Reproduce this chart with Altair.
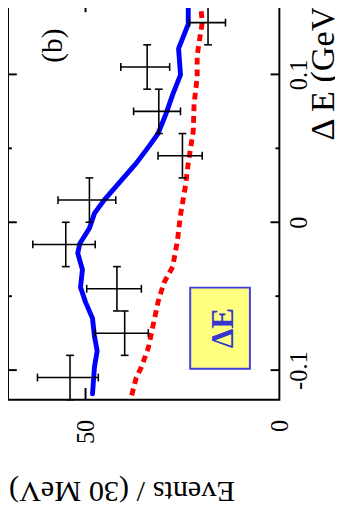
import altair as alt
import pandas as pd

# ---- data read from the (rotated) reference ----
# histogram points: Delta E bin centres (GeV), events, lower/upper error
de_centers = [-0.105, -0.075, -0.045, -0.015, 0.015, 0.045, 0.075, 0.105, 0.135]
events = [54.0, 39.9, 41.9, 55.1, 49.0, 25.0, 31.1, 34.1, 18.4]
ev_lo = [46.7, 33.8, 35.6, 47.5, 42.2, 19.9, 25.5, 28.3, 13.9]
ev_hi = [62.4, 47.5, 49.7, 63.6, 57.1, 31.3, 37.6, 40.9, 23.2]
half_bin = 0.015  # 30 MeV bins

# total fit (blue solid)
fit_de = [-0.116, -0.098, -0.087, -0.077, -0.065, -0.054, -0.044, -0.032, -0.021,
          -0.0145, -0.004, 0.006, 0.015, 0.025, 0.040, 0.0515, 0.060, 0.073, 0.0865,
          0.0997, 0.1175, 0.134, 0.150]
fit_ev = [48.2, 47.7, 47.0, 47.7, 48.2, 50.0, 51.3, 50.8, 52.0,
          51.5, 49.0, 47.7, 45.2, 41.9, 36.9, 33.6, 31.3, 29.3, 27.5,
          25.5, 26.0, 23.5, 23.5]

# background (red dotted)
bkg_de = [-0.117, -0.105, -0.098, -0.085, -0.070, -0.054, -0.041, -0.030, -0.0125,
          0.005, 0.025, 0.040, 0.062, 0.080, 0.098, 0.113, 0.135, 0.150]
bkg_ev = [38.1, 36.9, 35.6, 33.8, 32.6, 31.3, 29.8, 27.5, 26.3,
          25.5, 24.2, 23.5, 22.2, 22.0, 21.2, 21.2, 19.9, 20.4]

ev_domain = [0, 70]
de_domain = [-0.12, 0.15]
ev_ticks = [0, 50]
de_major = [-0.1, 0, 0.1]
de_minor = [-0.05, 0.05]

panel_label = "(b)"
panel_pos = (58.3, 0.1195)
box_label = "ΔE"
box_ev = (7.6, 23.0)
box_de = (-0.099, -0.0442)

FONT = "Liberation Serif"

pts = pd.DataFrame({
    "dE": de_centers, "ev": events, "lo": ev_lo, "hi": ev_hi,
    "dElo": [c - half_bin for c in de_centers],
    "dEhi": [c + half_bin for c in de_centers],
})
fit = pd.DataFrame({"dE": fit_de, "ev": fit_ev})
bkg = pd.DataFrame({"dE": bkg_de, "ev": bkg_ev})

xs = alt.Scale(domain=ev_domain, reverse=True, nice=False, zero=False)
ys = alt.Scale(domain=de_domain, nice=False, zero=False)

x_axis = alt.Axis(
    values=ev_ticks, ticks=False, tickSize=0, domain=False, grid=False,
    labelAngle=270, labelAlign="right", labelBaseline="middle", labelPadding=20,
    labelFont=FONT, labelFontSize=25, labelColor="black", labelFlush=False,
    labelOverlap=False,
    title="Events / (30 MeV)", titleFont=FONT, titleFontSize=31,
    titleFontWeight="normal", titleColor="black", titleAngle=180,
    titleAlign="left", titleBaseline="alphabetic", titleX=232, titleY=84,
)
y_axis = alt.Axis(
    orient="right", values=de_major, ticks=False, tickSize=0, domain=False,
    grid=False, labelAngle=270, labelAlign="center", labelBaseline="middle",
    labelPadding=20, labelFont=FONT, labelFontSize=25, labelColor="black",
    labelFlush=False, labelOverlap=False,
    labelExpr="datum.value < 0 ? '-' + format(abs(datum.value), '.1~f') : format(datum.value, '.1~f')",
    title="Δ E (GeV)", titleFont=FONT, titleFontSize=35, titleFontWeight="normal",
    titleColor="black", titleAngle=270, titleAlign="left",
    titleBaseline="alphabetic", titleX=55, titleY=143,
)

base_x = alt.X("ev:Q", scale=xs, axis=x_axis)
base_y = alt.Y("dE:Q", scale=ys, axis=y_axis)

# box annotation
box = alt.Chart(pd.DataFrame({"x1": [box_ev[0]], "x2": [box_ev[1]],
                              "y1": [box_de[0]], "y2": [box_de[1]]})).mark_rect(
    fill="#ffff80", stroke="#3f3fdc", strokeWidth=2
).encode(x=alt.X("x1:Q", scale=xs, axis=x_axis), x2="x2:Q",
         y=alt.Y("y1:Q", scale=ys, axis=y_axis), y2="y2:Q")

box_text = alt.Chart(pd.DataFrame({
    "ev": [(box_ev[0] + box_ev[1]) / 2], "dE": [(box_de[0] + box_de[1]) / 2],
    "t": [box_label]})).mark_text(
    font=FONT, fontSize=32, fontWeight="bold", color="#3535d0", angle=270,
    align="center", baseline="middle", dy=3
).encode(x=base_x, y=base_y, text="t:N")

panel = alt.Chart(pd.DataFrame({"ev": [panel_pos[0]], "dE": [panel_pos[1]],
                                "t": [panel_label]})).mark_text(
    font=FONT, fontSize=30, color="black", angle=270, align="center",
    baseline="middle"
).encode(x=base_x, y=base_y, text="t:N")

bkg_line = alt.Chart(bkg).mark_line(
    color="#ff0000", strokeWidth=5, strokeDash=[7, 5], strokeCap="butt"
).encode(x=base_x, y=base_y, order="dE:Q")

fit_line = alt.Chart(fit).mark_line(
    color="#0000ff", strokeWidth=5, strokeCap="round", strokeJoin="round"
).encode(x=base_x, y=base_y, order="dE:Q")

# error bars
hbar = alt.Chart(pts).mark_rule(color="black", strokeWidth=1.6).encode(
    x=alt.X("lo:Q", scale=xs, axis=x_axis), x2="hi:Q", y=base_y)
vbar = alt.Chart(pts).mark_rule(color="black", strokeWidth=1.6).encode(
    x=base_x, y=alt.Y("dElo:Q", scale=ys, axis=y_axis), y2="dEhi:Q")
cap_lo = alt.Chart(pts).mark_tick(orient="vertical", size=8, thickness=1.6,
                                  color="black", opacity=1).encode(
    x=alt.X("lo:Q", scale=xs, axis=x_axis), y=base_y)
cap_hi = alt.Chart(pts).mark_tick(orient="vertical", size=8, thickness=1.6,
                                  color="black", opacity=1).encode(
    x=alt.X("hi:Q", scale=xs, axis=x_axis), y=base_y)
cap_dlo = alt.Chart(pts).mark_tick(orient="horizontal", size=8, thickness=1.6,
                                   color="black", opacity=1).encode(
    x=base_x, y=alt.Y("dElo:Q", scale=ys, axis=y_axis))
cap_dhi = alt.Chart(pts).mark_tick(orient="horizontal", size=8, thickness=1.6,
                                   color="black", opacity=1).encode(
    x=base_x, y=alt.Y("dEhi:Q", scale=ys, axis=y_axis))

# inward frame ticks
def side_ticks(vals, edge, length, off):
    df = pd.DataFrame({"dE": vals, "ev": [edge] * len(vals)})
    return alt.Chart(df).mark_tick(orient="horizontal", size=length, thickness=2,
                                   color="black", opacity=1, xOffset=off).encode(
        x=base_x, y=base_y)

def tb_ticks(vals, edge, length, off):
    df = pd.DataFrame({"ev": vals, "dE": [edge] * len(vals)})
    return alt.Chart(df).mark_tick(orient="vertical", size=length, thickness=2,
                                   color="black", opacity=1, yOffset=off).encode(
        x=base_x, y=base_y)

ticks = [
    side_ticks(de_major, ev_domain[1], 9, 4.5),
    side_ticks(de_minor, ev_domain[1], 4, 2),
    side_ticks(de_major, ev_domain[0], 9, -4.5),
    side_ticks(de_minor, ev_domain[0], 4, -2),
    tb_ticks([v for v in ev_ticks if v > ev_domain[0]], de_domain[0], 12, -6),
    tb_ticks([v for v in ev_ticks if v > ev_domain[0]], de_domain[1], 12, 6),
]

chart = alt.layer(
    box, box_text, panel, bkg_line, fit_line, hbar, vbar,
    cap_lo, cap_hi, cap_dlo, cap_dhi, *ticks
).properties(
    width=278, height=409,
    autosize=alt.AutoSizeParams(type="none"),
    padding={"left": 0, "top": -14, "right": 57, "bottom": 119},
    background="white",
).configure_view(stroke="black", strokeWidth=2)

chart.save("out.html", embed_options={"renderer": "svg", "actions": False})
